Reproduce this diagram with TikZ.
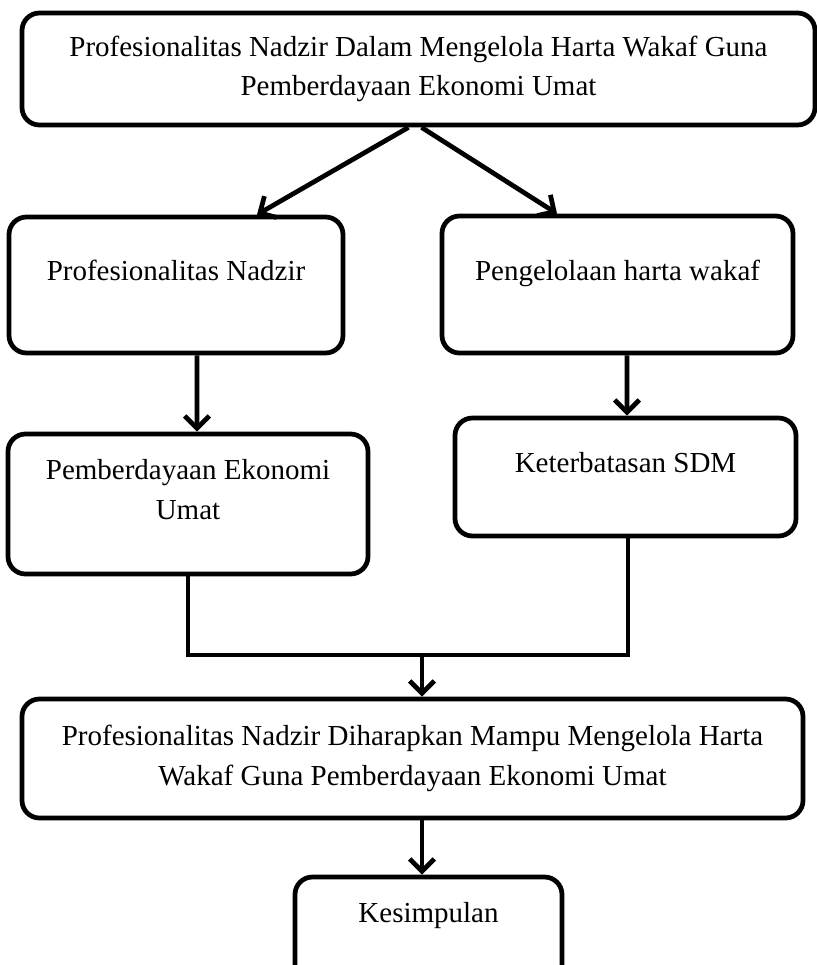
\documentclass[tikz,border=0pt]{standalone}
\usepackage{fontspec}
\setmainfont{Liberation Serif}
\usetikzlibrary{arrows.meta}

\begin{document}
\begin{tikzpicture}[line width=2.7pt, main node/.style={draw, rectangle, rounded corners=0.35cm, inner sep=0pt, align=center, font={\fontsize{16.5}{22.5}\selectfont}}, arr/.style={-{Straight Barb[length=7pt,width=14pt]}}]
        \useasboundingbox (0, 0) rectangle (16.34, -19.30);

        \node[main node, minimum width=15.86cm, minimum height=2.24cm] at (8.37, -1.38) (top) {Profesionalitas Nadzir Dalam Mengelola Harta Wakaf Guna\\Pemberdayaan Ekonomi Umat};
        \node[main node, minimum width=6.68cm, text height=1.26cm, text depth=1.46cm] at (3.52, -5.70) (pn) {Profesionalitas Nadzir};
        \node[main node, minimum width=7.02cm, text height=1.28cm, text depth=1.46cm] at (12.35, -5.69) (pw) {Pengelolaan harta wakaf};
        \node[main node, minimum width=7.20cm, text height=1.70cm, text depth=1.10cm] at (3.76, -10.08) (pe) {Pemberdayaan Ekonomi\\Umat};
        \node[main node, minimum width=6.82cm, text height=1.08cm, text depth=1.28cm] at (12.51, -9.54) (sdm) {Keterbatasan SDM};
        \node[main node, minimum width=15.62cm, minimum height=2.38cm] at (8.25, -15.17) (hasil) {Profesionalitas Nadzir Diharapkan Mampu Mengelola Harta\\Wakaf Guna Pemberdayaan Ekonomi Umat};
        \node[main node, minimum width=5.34cm, text height=0.90cm, text depth=1.26cm] at (8.57, -18.62) (ksp) {Kesimpulan};

        \coordinate (join) at (8.44, -13.10);

        \path[arr]
            ([xshift=-0.2cm]top.south) edge ([xshift=1.62cm]pn.north)
            ([xshift=0.06cm]top.south) edge ([xshift=-1.21cm]pw.north)
            ([xshift=0.42cm]pn.south) edge ([xshift=0.18cm]pe.north)
            ([xshift=0.19cm]pw.south) edge ([xshift=0.03cm]sdm.north)
            (join) edge (join |- hasil.north)
            (join |- hasil.south) edge (join |- ksp.north)
            ;
        \draw (pe.south) |- (join) -| ([xshift=0.05cm]sdm.south);
    \end{tikzpicture}
\end{document}
